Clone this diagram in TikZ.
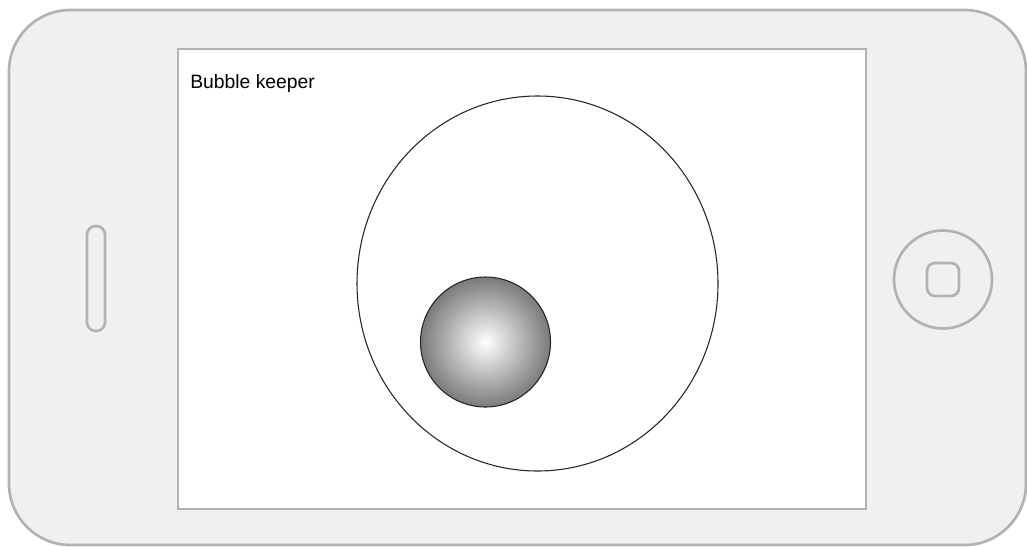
\documentclass[tikz,border=0pt]{standalone}
\usepackage{fontspec}
\setmainfont{Liberation Sans}
\definecolor{rimgray}{HTML}{B2B2B2}
\definecolor{bodygray}{HTML}{F0F0F0}
\tikzset{
    rim/.style={draw=rimgray, line width=2pt},
    outline/.style={draw=black!85, line width=0.8pt}
}
\begin{document}
\begin{tikzpicture}[x=0.75pt,y=-0.75pt]
    \useasboundingbox (0,0) rectangle (1027,546);
    % phone body and screen
    \filldraw[rim, fill=bodygray, rounded corners=46pt] (9,10) rectangle (1026,545);
    \filldraw[rim, fill=white] (178,49) rectangle (866,509);
    % speaker slot and home button
    \draw[rim, rounded corners=6.5pt] (87,226) rectangle (105,331);
    \draw[rim] (943,279.5) circle (49);
    \draw[rim, rounded corners=6pt] (927,263) rectangle (959,296);
    \node[anchor=base west, inner sep=0pt, font=\fontsize{14.5}{17}\selectfont] (title) at (190,88) {Bubble keeper};
    % keeper and bubble
    \draw[outline] (537.5,283.5) ellipse [x radius=180.5, y radius=187.5];
    \shadedraw[outline, inner color=white, outer color=black!52] (485.5,342) circle (65);
\end{tikzpicture}
\end{document}
